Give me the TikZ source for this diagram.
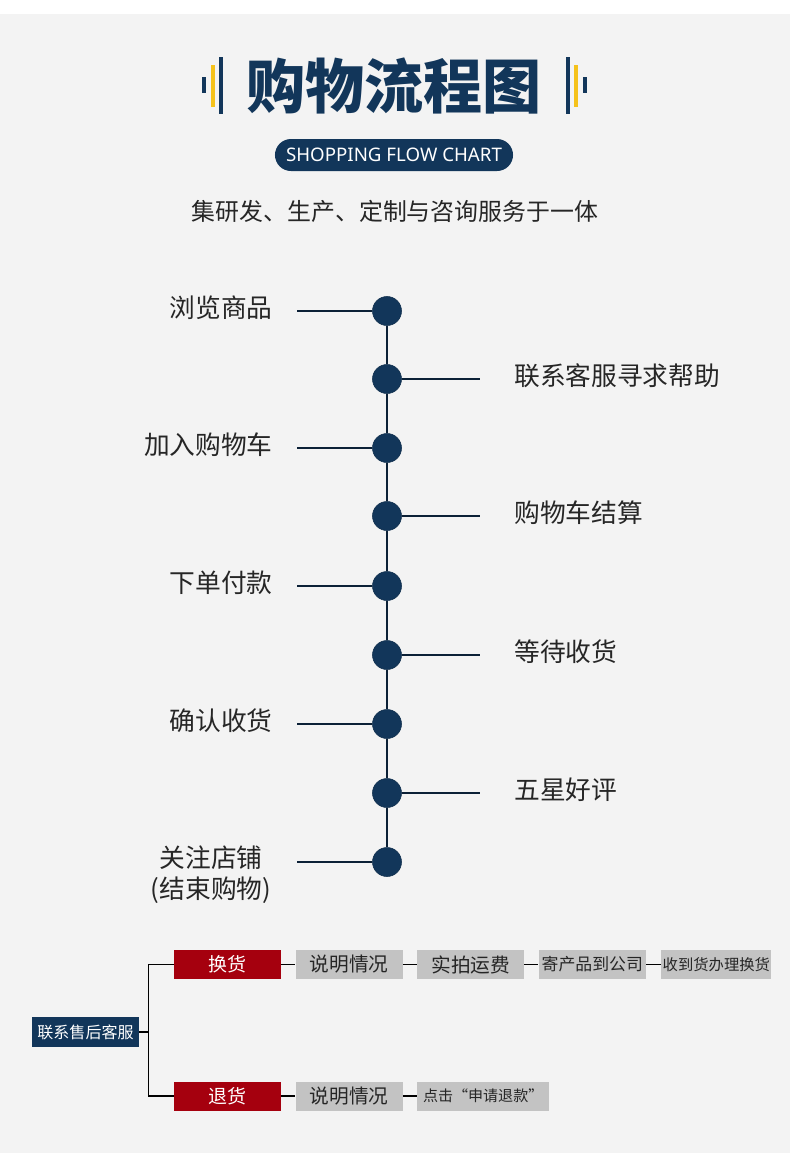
\documentclass[tikz,border=0pt]{standalone}
\usepackage{fontspec}
\newfontfamily\cjk{Noto Sans CJK SC}
\newfontfamily\latin{Noto Sans}
\usetikzlibrary{positioning}
\definecolor{navy}{HTML}{12365A}
\definecolor{bggray}{HTML}{F3F3F3}
\definecolor{gold}{HTML}{F5C21B}
\definecolor{cred}{HTML}{A5000E}
\definecolor{boxgray}{HTML}{C3C3C3}
\definecolor{inkgray}{HTML}{262626}

\begin{document}
\begin{tikzpicture}[x=0.025cm, y=-0.025cm,
  dot/.style={circle, fill=navy, draw=navy!85!black, line width=0.4pt, minimum size=0.725cm, inner sep=0pt},
  spine/.style={line width=1.4pt, navy!60!black},
  lbl/.style={font=\cjk\fontsize{18.3}{22}\selectfont, text=inkgray, inner sep=0pt, align=center},
  stepbox/.style={minimum width=2.675cm, minimum height=0.725cm, inner sep=0pt, font=\cjk\fontsize{14}{16}\selectfont},
  redbox/.style={stepbox, fill=cred, text=white, font=\cjk\fontsize{13.5}{16}\selectfont},
  graybox/.style={stepbox, fill=boxgray, text=inkgray},
  link/.style={line width=0.8pt, black},
  bar/.style={fill=navy},
]

% ====== Page and background ======
\useasboundingbox (0,0) rectangle (790,1159);
\fill[white] (0,0) rectangle (790,1159);
\fill[bggray] (0,14) rectangle (790,1153);

% ====== Heading ======
\fill[bar] (202,77) rectangle (206,93);
\fill[gold] (211,65) rectangle (215,107);
\fill[bar] (219,57) rectangle (223,114);
\fill[bar] (566,57) rectangle (570,114);
\fill[gold] (574,65) rectangle (578,107);
\fill[bar] (583,77) rectangle (587,93);
\node[font=\cjk\bfseries\fontsize{42}{48}\selectfont, text=navy, inner sep=0pt] (title) at (394,86) {购物流程图};
\node[fill=navy, rounded corners=0.4cm, minimum width=5.95cm, minimum height=0.8cm, inner sep=0pt,
  text=white, font=\latin\fontsize{13.3}{16}\selectfont] (pill) at (394,155) {SHOPPING FLOW CHART};
\node[font=\cjk\fontsize{17}{20}\selectfont, text=inkgray, inner sep=0pt] (slogan) at (395,211) {集研发、生产、定制与咨询服务于一体};

% ====== Timeline ======
\node[dot] (d1) at (387,311) {};
\node[dot] (d2) at (387,379) {};
\node[dot] (d3) at (387,448) {};
\node[dot] (d4) at (387,516) {};
\node[dot] (d5) at (387,586) {};
\node[dot] (d6) at (387,655) {};
\node[dot] (d7) at (387,724) {};
\node[dot] (d8) at (387,793) {};
\node[dot] (d9) at (387,862) {};
\draw[spine] (d1) -- (d2) -- (d3) -- (d4) -- (d5) -- (d6) -- (d7) -- (d8) -- (d9);

% left steps
\node[lbl, anchor=east] (s1) at (273,308) {浏览商品};
\node[lbl, anchor=east] (s3) at (273,445) {加入购物车};
\node[lbl, anchor=east] (s5) at (273,583) {下单付款};
\node[lbl, anchor=east] (s7) at (273,721) {确认收货};
\node[lbl] (s9) at (211,875) {关注店铺\\(结束购物)};
\coordinate (l1) at (297,311);
\coordinate (l3) at (297,448);
\coordinate (l5) at (297,586);
\coordinate (l7) at (297,724);
\coordinate (l9) at (297,862);
\draw[spine] (l1) -- (d1);
\draw[spine] (l3) -- (d3);
\draw[spine] (l5) -- (d5);
\draw[spine] (l7) -- (d7);
\draw[spine] (l9) -- (d9);

% right steps
\node[lbl, anchor=west] (s2) at (514,376) {联系客服寻求帮助};
\node[lbl, anchor=west] (s4) at (514,513) {购物车结算};
\node[lbl, anchor=west] (s6) at (514,652) {等待收货};
\node[lbl, anchor=west] (s8) at (514,790) {五星好评};
\coordinate (r2) at (480,379);
\coordinate (r4) at (480,516);
\coordinate (r6) at (480,655);
\coordinate (r8) at (480,793);
\draw[spine] (d2) -- (r2);
\draw[spine] (d4) -- (r4);
\draw[spine] (d6) -- (r6);
\draw[spine] (d8) -- (r8);

% ====== After-sales ======
\node[fill=navy, text=white, minimum width=2.675cm, minimum height=0.75cm, inner sep=0pt,
  font=\cjk\fontsize{11.4}{13}\selectfont] (after) at (85.5,1032) {联系售后客服};
\node[redbox] (swap) at (227.5,964.5) {换货};
\node[graybox, right=0.35cm of swap] (swap1) {说明情况};
\node[graybox, right=0.35cm of swap1] (swap2) {实拍运费};
\node[graybox, right=0.35cm of swap2, font=\cjk\fontsize{12}{14}\selectfont] (swap3) {寄产品到公司};
\node[graybox, right=0.375cm of swap3, minimum width=2.75cm, font=\cjk\fontsize{10.9}{13}\selectfont] (swap4) {收到货办理换货};
\node[redbox] (ret) at (227.5,1096) {退货};
\node[graybox, right=0.35cm of ret] (ret1) {说明情况};
\node[graybox, right=0.35cm of ret1, minimum width=3.3cm, font=\cjk\fontsize{10.7}{13}\selectfont] (ret2) {点击“申请退款”};

\draw[link] (after.east) -- ++(9,0) coordinate (fork);
\draw[link] (swap.west) -| (fork) |- (ret.west);
\draw[link] (swap) -- (swap1) -- (swap2) -- (swap3) -- (swap4);
\draw[link] (ret) -- (ret1) -- (ret2);

\end{tikzpicture}
\end{document}
